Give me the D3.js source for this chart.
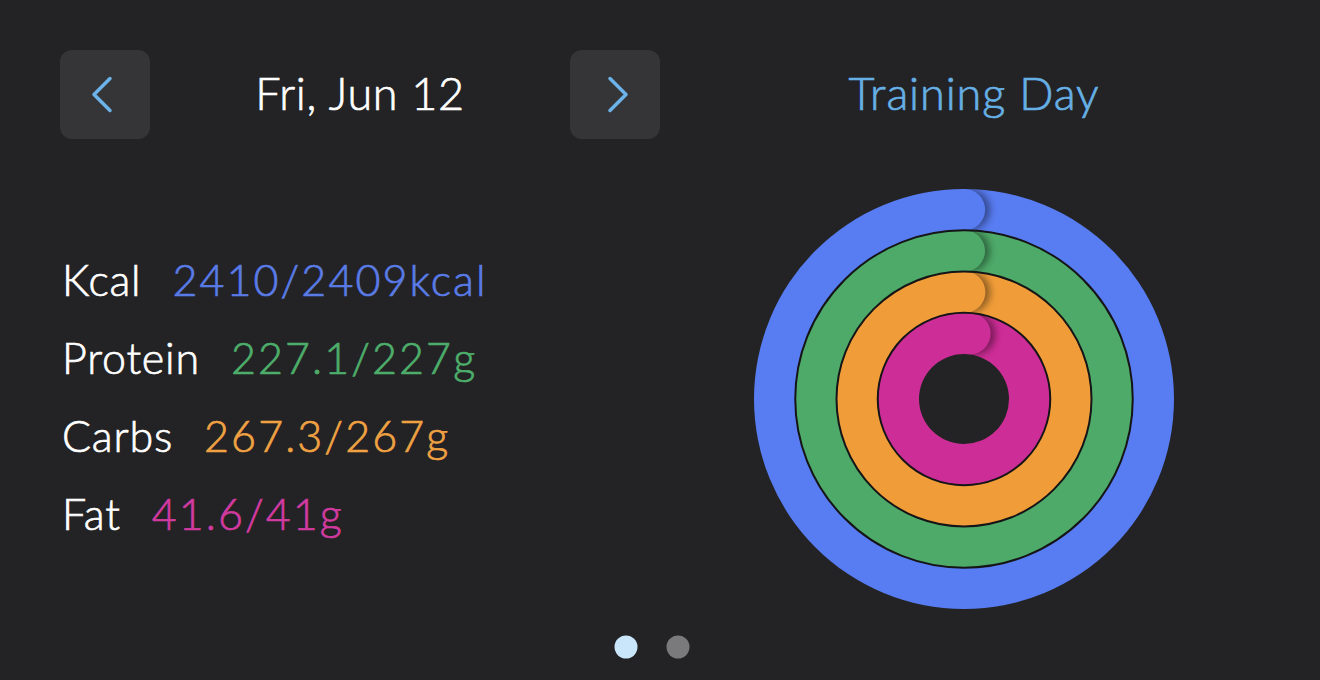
<!DOCTYPE html>
<html>
<head>
<meta charset="utf-8">
<script src="https://cdn.jsdelivr.net/npm/d3@7"></script>
<style>
  html, body { margin: 0; padding: 0; background: #232325; }
  svg { display: block; }
</style>
</head>
<body>
<div id="chart"></div>
<script>
// data
var dateLabel = "Fri, Jun 12";
var dayType = "Training Day";
var nutrients = ["Kcal", "Protein", "Carbs", "Fat"];
var eaten = [2410, 227.1, 267.3, 41.6];
var goals = [2409, 227, 267, 41];
var units = ["kcal", "g", "g", "g"];
var pages = ["summary", "detail"];
var currentPage = 0;

var ringColors = ["#587cf1", "#4eaa69", "#f09d39", "#cd2d96"];
var textColors = ["#5a7be6", "#4dae6b", "#f0a243", "#d23aa0"];
var font = "Lato, 'Noto Sans', sans-serif";

var W = 1320, H = 680;

var svg = d3.select("#chart").append("svg")
    .attr("width", W)
    .attr("height", H);

svg.append("rect").attr("width", W).attr("height", H).attr("fill", "#232325");

// light font thickened a little with a hairline stroke of the same colour
function styleText(sel, size, color, spacing) {
    sel.attr("font-family", font)
        .attr("font-weight", 300)
        .attr("font-size", size)
        .attr("letter-spacing", spacing)
        .attr("fill", color)
        .attr("stroke", color)
        .attr("stroke-width", 0.7);
}

// header: prev / date / next
var buttons = [{x: 60, dir: -1}, {x: 570, dir: 1}];
var btn = svg.selectAll(".btn")
    .data(buttons)
    .enter().append("g")
    .attr("class", "btn")
    .attr("transform", function(d) { return "translate(" + d.x + ",50)"; });

btn.append("rect")
    .attr("width", 90)
    .attr("height", 89)
    .attr("rx", 12)
    .attr("fill", "#353538");

btn.append("path")
    .attr("d", function(d) {
        var cx = 45, cy = 44.5;
        return "M" + (cx - d.dir * 5) + "," + (cy - 16) +
               "L" + (cx + d.dir * 11) + "," + cy +
               "L" + (cx - d.dir * 5) + "," + (cy + 16);
    })
    .attr("fill", "none")
    .attr("stroke", "#6cb3ea")
    .attr("stroke-width", 3.5)
    .attr("stroke-linecap", "round")
    .attr("stroke-linejoin", "round");

svg.append("text")
    .attr("x", 360)
    .attr("y", 110)
    .attr("text-anchor", "middle")
    .call(styleText, "45px", "#ffffff", "0.7px")
    .text(dateLabel);

svg.append("text")
    .attr("x", 974)
    .attr("y", 110)
    .attr("text-anchor", "middle")
    .call(styleText, "45px", "#66b0e6", "0.9px")
    .text(dayType);

// left list of values
var rowY = d3.scalePoint()
    .domain(nutrients)
    .range([296, 530]);

var rows = svg.selectAll(".row")
    .data(nutrients)
    .enter().append("g")
    .attr("class", "row");

rows.append("text")
    .attr("class", "lbl")
    .attr("x", 62)
    .attr("y", function(d) { return rowY(d); })
    .call(styleText, "43px", "#ffffff", "0.8px")
    .text(function(d) { return d; });

rows.append("text")
    .attr("x", function() {
        var lbl = this.parentNode.querySelector(".lbl");
        return lbl.getBBox().x + lbl.getBBox().width + 31;
    })
    .attr("y", function(d) { return rowY(d); })
    .each(function(d, i) { d3.select(this).call(styleText, "43px", textColors[i], "2.1px"); })
    .text(function(d, i) { return eaten[i] + "/" + goals[i] + units[i]; });

// rings
var cx = 964, cy = 399;
var ringBand = d3.scaleBand()
    .domain(nutrients)
    .range([210, 45]);

var defs = svg.append("defs");
defs.append("filter")
    .attr("id", "capBlur")
    .attr("x", "-50%").attr("y", "-50%")
    .attr("width", "200%").attr("height", "200%")
    .append("feGaussianBlur")
    .attr("stdDeviation", 3.5);

var rings = svg.append("g")
    .attr("transform", "translate(" + cx + "," + cy + ")");

nutrients.forEach(function(name, i) {
    var inner = ringBand(name);
    var outer = inner + ringBand.bandwidth();
    var mid = (outer + inner) / 2;
    var half = ringBand.bandwidth() / 2;
    var angle = d3.scaleLinear().domain([0, goals[i]]).range([0, 2 * Math.PI]);
    var endA = angle(eaten[i]);

    var arc = d3.arc().innerRadius(inner).outerRadius(outer);

    // full ring (goal reached)
    rings.append("path")
        .attr("d", arc({startAngle: 0, endAngle: 2 * Math.PI}))
        .attr("fill", ringColors[i]);

    // clip for the shadow: only ahead of the end of the arc
    defs.append("clipPath")
        .attr("id", "clip" + i)
        .append("path")
        .attr("d", arc({startAngle: endA, endAngle: endA + 0.9}));

    var px = Math.sin(endA) * mid, py = -Math.cos(endA) * mid;
    var tx = Math.cos(endA), ty = Math.sin(endA);

    rings.append("g")
        .attr("clip-path", "url(#clip" + i + ")")
        .append("circle")
        .attr("cx", px + tx * 5)
        .attr("cy", py + ty * 5)
        .attr("r", half)
        .attr("fill", "#000")
        .attr("opacity", 0.4)
        .attr("filter", "url(#capBlur)");

    // rounded end cap
    rings.append("circle")
        .attr("cx", px)
        .attr("cy", py)
        .attr("r", half)
        .attr("fill", ringColors[i]);
});

// thin dark separators between rings
rings.selectAll(".sep")
    .data(nutrients.slice(1))
    .enter().append("circle")
    .attr("class", "sep")
    .attr("r", function(d) { return ringBand(d) + ringBand.bandwidth(); })
    .attr("fill", "none")
    .attr("stroke", "#151517")
    .attr("stroke-width", 2);

// page dots
svg.selectAll(".dot")
    .data(pages)
    .enter().append("circle")
    .attr("class", "dot")
    .attr("cx", function(d, i) { return 626 + i * 52; })
    .attr("cy", 647)
    .attr("r", 11.5)
    .attr("fill", function(d, i) { return i === currentPage ? "#cae6fb" : "#7a7a7c"; });
</script>
</body>
</html>
